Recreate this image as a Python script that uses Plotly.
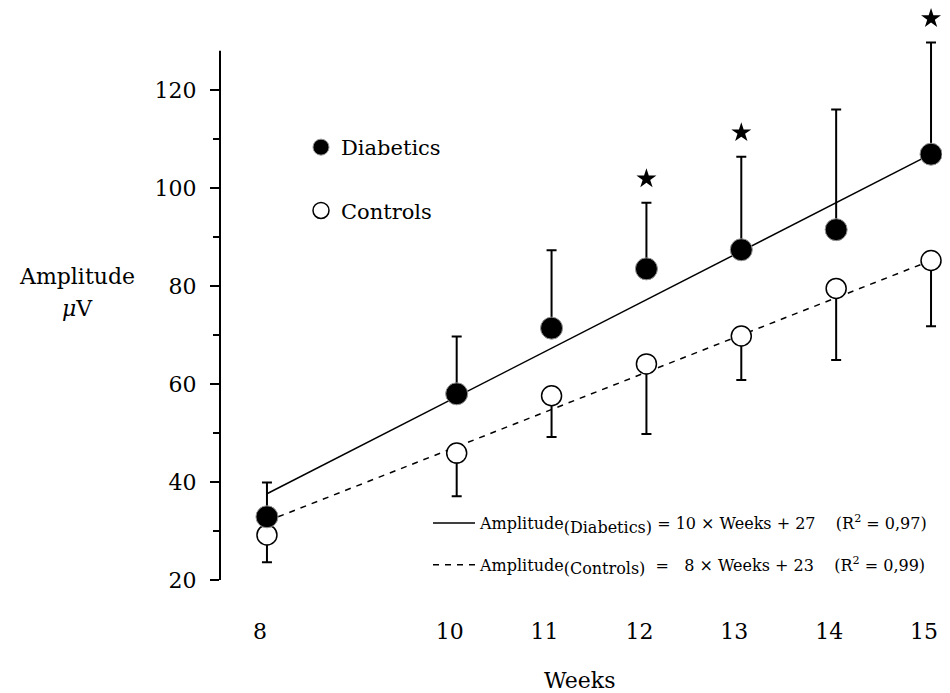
import plotly.graph_objects as go

# ---- data ----
weeks = [8, 10, 11, 12, 13, 14, 15]
diab_mean = [32.9, 58.0, 71.4, 83.5, 87.4, 91.5, 106.9]
diab_sd = [7.0, 11.7, 15.9, 13.5, 19.0, 24.5, 22.8]
ctrl_mean = [29.2, 45.9, 57.6, 64.1, 69.8, 79.5, 85.2]
ctrl_sd = [5.6, 8.8, 8.4, 14.3, 9.0, 14.6, 13.4]
sig_weeks = [12, 13, 15]            # weeks marked with a star
fit_weeks = [8, 15]
diab_fit = [37.6, 106.9]            # regression line, as drawn
ctrl_fit = [32.0, 85.2]
x_ticks = [8, 10, 11, 12, 13, 14, 15]
y_ticks = [20, 40, 60, 80, 100, 120]
y_minor = [30, 50, 70, 90, 110]
y_axis_extent = [20, 128]

NB = "\u00a0"
SUB = "<sub><span style='font-size:16px'>{}</span></sub>"
diab_eq = ("Amplitude" + SUB.format("(Diabetics)") + NB + "= 10 × Weeks + 27"
           + NB * 4 + "(R<sup>2</sup> = 0,97)")
ctrl_eq = ("Amplitude" + SUB.format("(Controls)") + NB * 2 + "=" + NB * 3 + "8 × Weeks + 23"
           + NB * 4 + "(R<sup>2</sup> = 0,99)")

FONT = "DejaVu Serif"

# ---- geometry (page has an 8px body margin) ----
W, H = 950, 693
OFF = 8
L, R = 220 - OFF, OFF
T, B = 4, H - (580 - OFF)
PW, PH = W - L - R, H - T - B
PX_PER_UNIT = 4.9
y_top = 20 + PH / PX_PER_UNIT


def paper(xref_px, yref_px):
    """reference-image pixel -> paper coordinates"""
    xf, yf = xref_px - OFF, yref_px - OFF
    return (xf - L) / PW, (H - B - yf) / PH


fig = go.Figure()

# regression lines (legend2)
fig.add_trace(go.Scatter(
    x=fit_weeks, y=diab_fit, mode="lines", name=diab_eq,
    line=dict(color="black", width=1.5), legend="legend2",
    legendgroup="a", hoverinfo="skip"))
fig.add_trace(go.Scatter(
    x=fit_weeks, y=ctrl_fit, mode="lines", name=ctrl_eq,
    line=dict(color="black", width=1.5, dash="6px,6px"), legend="legend2",
    legendgroup="b", hoverinfo="skip"))

# controls (open circles, error bars downward)
fig.add_trace(go.Scatter(
    x=weeks, y=ctrl_mean, mode="markers", name="Controls",
    marker=dict(symbol="circle", size=20, color="white",
                line=dict(color="black", width=1.5)),
    error_y=dict(type="data", symmetric=False, array=[0] * len(weeks),
                 arrayminus=ctrl_sd, color="black", thickness=2, width=5),
    legend="legend", legendgroup="d", legendrank=2))

# diabetics (filled circles, error bars upward)
fig.add_trace(go.Scatter(
    x=weeks, y=diab_mean, mode="markers", name="Diabetics",
    marker=dict(symbol="circle", size=22, color="black",
                line=dict(color="rgb(150,150,150)", width=1)),
    error_y=dict(type="data", symmetric=False, array=diab_sd,
                 arrayminus=[0] * len(weeks), color="black", thickness=2, width=5),
    legend="legend", legendgroup="c", legendrank=1))

# significance stars
star_y = [diab_mean[weeks.index(w)] + diab_sd[weeks.index(w)] + 4.9 for w in sig_weeks]
fig.add_trace(go.Scatter(
    x=sig_weeks, y=star_y, mode="markers", showlegend=False,
    marker=dict(symbol="star", size=15, color="black"),
    cliponaxis=False, hoverinfo="skip"))

lx1, ly1 = paper(301, 127)
lx2, ly2 = paper(428, 506)
ax_title = paper(77, 276)
ax_unit = paper(77, 308)
wk = paper(579, 680)

fig.update_layout(
    width=W, height=H,
    margin=dict(l=L, r=R, t=T, b=B),
    paper_bgcolor="white", plot_bgcolor="white",
    font=dict(family=FONT, size=22, color="black"),
    xaxis=dict(range=[7.505, 15.2], tickvals=x_ticks, ticktext=[str(v) for v in x_ticks],
               showline=False, showgrid=False, zeroline=False, ticks="",
               ticklabelstandoff=36, ticklabelshift=-7,
               tickfont=dict(family=FONT, size=22)),
    yaxis=dict(range=[20, y_top], tickvals=y_ticks, showline=False,
               ticks="outside", ticklen=9, tickwidth=2, tickcolor="black",
               minor=dict(ticks="outside", ticklen=6, tickwidth=2, tickvals=y_minor,
                          tickcolor="black", showgrid=False),
               showgrid=False, zeroline=False, ticklabelstandoff=9,
               tickfont=dict(family=FONT, size=22)),
    shapes=[dict(type="line", xref="paper", yref="y", x0=0, x1=0,
                 y0=y_axis_extent[0], y1=y_axis_extent[1],
                 line=dict(color="black", width=2))],
    legend=dict(x=lx1, y=ly1, xanchor="left", yanchor="top",
                font=dict(family=FONT, size=21), tracegroupgap=33,
                traceorder="grouped", bgcolor="rgba(0,0,0,0)", itemsizing="trace"),
    legend2=dict(x=lx2, y=ly2, xanchor="left", yanchor="top",
                 font=dict(family=FONT, size=16), tracegroupgap=18, itemwidth=42,
                 traceorder="grouped", bgcolor="rgba(0,0,0,0)"),
    annotations=[
        dict(text="Amplitude", x=ax_title[0], y=ax_title[1], xref="paper", yref="paper",
             xanchor="center", yanchor="middle", showarrow=False,
             font=dict(family=FONT, size=22)),
        dict(text="<i>μ</i>V", x=ax_unit[0], y=ax_unit[1], xref="paper", yref="paper",
             xanchor="center", yanchor="middle", showarrow=False,
             font=dict(family=FONT, size=22)),
        dict(text="Weeks", x=wk[0], y=wk[1], xref="paper", yref="paper",
             xanchor="center", yanchor="middle", showarrow=False,
             font=dict(family=FONT, size=22)),
    ],
)

fig.write_html("out.html")
